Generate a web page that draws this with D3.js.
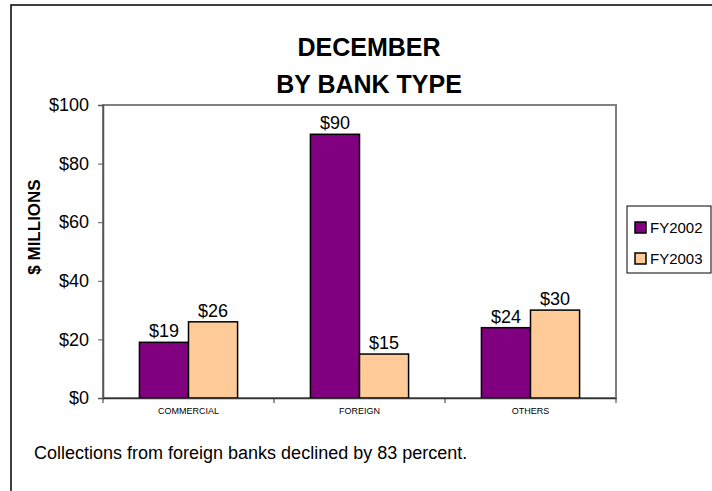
<!DOCTYPE html>
<html><head><meta charset="utf-8">
<script src="https://cdn.jsdelivr.net/npm/d3@7"></script>
<style>body{margin:0;background:#fff}svg{display:block}text{font-family:"Liberation Sans",Arial,sans-serif}</style>
</head><body>
<script>
const categories = ["COMMERCIAL", "FOREIGN", "OTHERS"];
const series = ["FY2002", "FY2003"];
const fy2002 = [19, 90, 24];
const fy2003 = [26, 15, 30];
const yTicks = [0, 20, 40, 60, 80, 100];
const colors = ["#800080", "#FFCC99"];
const titleLines = ["DECEMBER", "BY BANK TYPE"];
const yTitle = "$ MILLIONS";
const footer = "Collections from foreign banks declined by 83 percent.";

const W = 712, H = 491;
const FONT = '"Liberation Sans",Arial,sans-serif';
const svg = d3.select("body").append("svg").attr("width", W).attr("height", H);

svg.append("rect").attr("x", 11).attr("y", 5).attr("width", W).attr("height", H)
  .attr("fill", "#fff").attr("stroke", "#000").attr("stroke-width", 1.5);

const L = 103, R = 616, T = 105, B = 398;
const x0 = d3.scaleBand().domain(categories).range([L, R]).padding(0);
const bw = x0.bandwidth();
const x1 = d3.scaleBand().domain(series).range([bw * 0.213, bw * 0.787]).padding(0);
const y = d3.scaleLinear().domain([0, 100]).range([B, T]);

// plot area border
svg.append("rect").attr("x", L).attr("y", T).attr("width", R - L).attr("height", B - T)
  .attr("fill", "none").attr("stroke", "#808080").attr("stroke-width", 2);

const data = categories.map((c, i) => ({cat: c, vals: [fy2002[i], fy2003[i]]}));

const groups = svg.selectAll("g.grp").data(data).enter().append("g")
  .attr("transform", d => `translate(${x0(d.cat)},0)`);
groups.selectAll("rect").data(d => d.vals.map((v, j) => ({s: series[j], v, j}))).enter()
  .append("rect")
  .attr("x", d => x1(d.s)).attr("y", d => y(d.v))
  .attr("width", x1.bandwidth()).attr("height", d => y(0) - y(d.v))
  .attr("fill", d => colors[d.j]).attr("stroke", "#000").attr("stroke-width", 1.5);
groups.selectAll("text.val").data(d => d.vals.map((v, j) => ({s: series[j], v, j}))).enter()
  .append("text").attr("class", "val")
  .attr("x", d => x1(d.s) + x1.bandwidth() / 2).attr("y", d => y(d.v) - 5)
  .attr("text-anchor", "middle").attr("font-size", 18).text(d => "$" + d.v);

// y axis
const yAxis = svg.append("g").attr("transform", `translate(${L},0)`)
  .call(d3.axisLeft(y).tickValues(yTicks).tickFormat(d => "$" + d).tickSize(5).tickPadding(9));
yAxis.select(".domain").attr("stroke", "#555").attr("stroke-width", 1.5);
yAxis.selectAll(".tick line").attr("stroke", "#555");
yAxis.selectAll(".tick text").attr("font-size", 18).attr("fill", "#000").attr("font-family", FONT);

// x axis
const xAxis = svg.append("g").attr("transform", `translate(0,${B})`)
  .call(d3.axisBottom(x0).tickSize(0).tickPadding(10));
xAxis.select(".domain").attr("stroke", "#333").attr("stroke-width", 1.5);
xAxis.selectAll(".tick text").attr("font-size", 9).attr("fill", "#000").attr("font-family", FONT);
const bounds = categories.map(c => x0(c)).concat([R]);
svg.selectAll("line.xt").data(bounds).enter().append("line")
  .attr("x1", d => d).attr("x2", d => d).attr("y1", B).attr("y2", B + 5)
  .attr("stroke", "#333").attr("stroke-width", 1);

// title
svg.selectAll("text.title").data(titleLines).enter().append("text")
  .attr("x", 369).attr("y", (d, i) => 56 + i * 37).attr("text-anchor", "middle")
  .attr("font-size", 25).attr("font-weight", "bold").text(d => d);

// y title
svg.append("text").attr("transform", "translate(40,227) rotate(-90)")
  .attr("text-anchor", "middle").attr("font-size", 17).attr("font-weight", "bold").text(yTitle);

// legend
const lg = svg.append("g").attr("transform", "translate(627,206)");
lg.append("rect").attr("width", 84).attr("height", 67).attr("fill", "#fff")
  .attr("stroke", "#000").attr("stroke-width", 1);
series.forEach((s, i) => {
  lg.append("rect").attr("x", 8).attr("y", 16 + i * 31).attr("width", 11).attr("height", 11)
    .attr("fill", colors[i]).attr("stroke", "#000").attr("stroke-width", 1.5);
  lg.append("text").attr("x", 23).attr("y", 27 + i * 31).attr("font-size", 15).text(s);
});

// footer
svg.append("text").attr("x", 34).attr("y", 459).attr("font-size", 18).text(footer);
</script>
</body></html>
